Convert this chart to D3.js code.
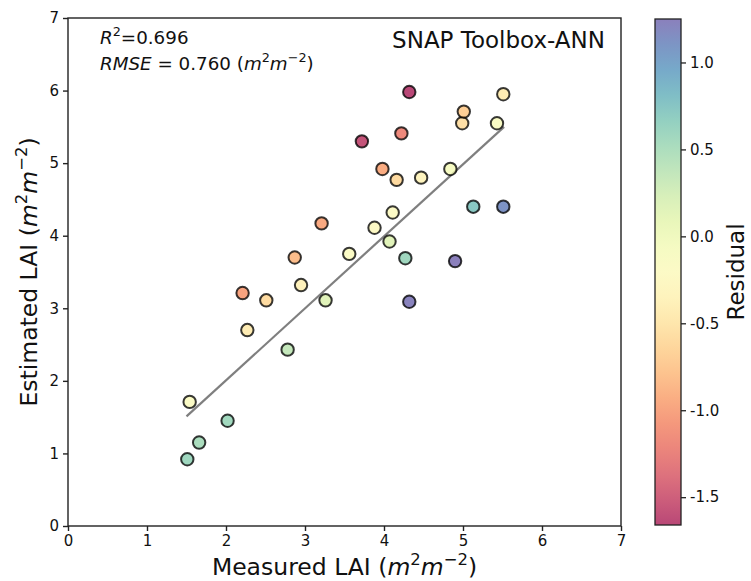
<!DOCTYPE html>
<html>
<head>
<meta charset="utf-8">
<script src="https://cdn.jsdelivr.net/npm/d3@7"></script>
<style>
  body { margin: 0; background: #fff; }
  text { font-family: "DejaVu Sans", sans-serif; fill: #111; }
</style>
</head>
<body>
<div id="chart"></div>
<script>
// measured vs estimated LAI
var measured  = [1.51, 1.54, 1.66, 2.02, 2.21, 2.27, 2.51, 2.78, 2.87, 2.95, 3.21, 3.26, 3.56,
                 3.72, 3.88, 3.98, 4.07, 4.11, 4.16, 4.22, 4.27, 4.32, 4.32, 4.47, 4.84, 4.90,
                 4.99, 5.01, 5.13, 5.43, 5.51, 5.51];
var estimated = [0.92, 1.71, 1.15, 1.45, 3.21, 2.70, 3.11, 2.43, 3.70, 3.32, 4.17, 3.11, 3.75,
                 5.30, 4.11, 4.92, 3.92, 4.32, 4.77, 5.41, 3.69, 5.98, 3.09, 4.80, 4.92, 3.65,
                 5.55, 5.71, 4.40, 5.55, 5.95, 4.40];
var fitX = [1.50, 5.52];
var fitY = [1.51, 5.50];
var axisTicks = [0, 1, 2, 3, 4, 5, 6, 7];
var cbarTicks = [-1.5, -1.0, -0.5, 0.0, 0.5, 1.0];

var W = 751, H = 581;
var pLeft = 68, pRight = 621, pTop = 18, pBottom = 526;
var cbLeft = 655, cbRight = 681, cbTop = 19, cbBottom = 525;

var svg = d3.select("#chart").append("svg")
  .attr("width", W).attr("height", H);

var x = d3.scaleLinear().domain([0, 7]).range([pLeft, pRight]);
var y = d3.scaleLinear().domain([0, 7]).range([pBottom, pTop]);

var points = measured.map(function(m, i) {
  return {m: m, e: estimated[i], r: m - estimated[i]};
});
var rExt = d3.extent(points, function(d) { return d.r; });
var color = d3.scaleSequential(d3.interpolateSpectral).domain(rExt);
var alpha = 0.72;

// fit line
svg.append("line")
  .attr("x1", x(fitX[0])).attr("y1", y(fitY[0]))
  .attr("x2", x(fitX[1])).attr("y2", y(fitY[1]))
  .attr("stroke", "#7f7f7f").attr("stroke-width", 2.2);

// points
svg.append("g").selectAll("circle")
  .data(points)
  .enter().append("circle")
    .attr("cx", function(d) { return x(d.m); })
    .attr("cy", function(d) { return y(d.e); })
    .attr("r", 6.2)
    .attr("fill", function(d) { return color(d.r); })
    .attr("fill-opacity", alpha)
    .attr("stroke", "#000")
    .attr("stroke-opacity", 0.78)
    .attr("stroke-width", 2);

// frame
svg.append("rect")
  .attr("x", pLeft).attr("y", pTop)
  .attr("width", pRight - pLeft).attr("height", pBottom - pTop)
  .attr("fill", "none").attr("stroke", "#222").attr("stroke-width", 1.4);

var xAxis = svg.append("g")
  .attr("transform", "translate(0," + pBottom + ")")
  .call(d3.axisBottom(x).tickValues(axisTicks).tickSize(5).tickPadding(4).tickFormat(d3.format("d")));
var yAxis = svg.append("g")
  .attr("transform", "translate(" + pLeft + ",0)")
  .call(d3.axisLeft(y).tickValues(axisTicks).tickSize(5).tickPadding(4).tickFormat(d3.format("d")));
[xAxis, yAxis].forEach(function(a) {
  a.select(".domain").remove();
  a.selectAll("line").attr("stroke", "#222").attr("stroke-width", 1.4);
  a.selectAll("text").style("font-size", "15px").style("font-family", "DejaVu Sans").attr("fill", "#111");
});

// rich text helper: parts are {t, i (italic), sup}
function rich(sel, parts, size) {
  var supSize = size * 0.7, shift = size * 0.42, up = false;
  parts.forEach(function(p) {
    var ts = sel.append("tspan").text(p.t)
      .style("font-style", p.i ? "italic" : "normal")
      .style("font-size", (p.sup ? supSize : size) + "px");
    if (p.sup && !up) { ts.attr("dy", -shift); up = true; }
    else if (!p.sup && up) { ts.attr("dy", shift); up = false; }
  });
  return sel;
}
var unit = [{t: "("}, {t: "m", i: true}, {t: "2", sup: true}, {t: "m", i: true}, {t: "\u22122", sup: true}, {t: ")"}];

// axis labels
rich(svg.append("text")
  .attr("x", (pLeft + pRight) / 2).attr("y", 575)
  .attr("text-anchor", "middle").style("font-size", "23.5px"),
  [{t: "Measured LAI "}].concat(unit), 23.5);

rich(svg.append("text")
  .attr("transform", "translate(37," + ((pTop + pBottom) / 2) + ") rotate(-90)")
  .attr("text-anchor", "middle").style("font-size", "23.5px"),
  [{t: "Estimated LAI "}].concat(unit), 23.5);

// annotations
rich(svg.append("text").attr("x", 100).attr("y", 44).style("font-size", "18.3px"),
  [{t: "R", i: true}, {t: "2", sup: true}, {t: "=0.696"}], 18.3);
rich(svg.append("text").attr("x", 100).attr("y", 70).style("font-size", "18.3px"),
  [{t: "RMSE", i: true}, {t: " = 0.760 "}].concat(unit), 18.3);

svg.append("text")
  .attr("x", 605).attr("y", 48)
  .attr("text-anchor", "end")
  .style("font-size", "23px")
  .text("SNAP Toolbox-ANN");

// colorbar
var cb = d3.scaleLinear().domain(rExt).range([cbBottom, cbTop]);
var grad = svg.append("defs").append("linearGradient")
  .attr("id", "cbgrad").attr("x1", 0).attr("y1", 1).attr("x2", 0).attr("y2", 0);
d3.range(0, 1.0001, 0.05).forEach(function(t) {
  grad.append("stop").attr("offset", t).attr("stop-color", d3.interpolateSpectral(t));
});
svg.append("rect")
  .attr("x", cbLeft).attr("y", cbTop)
  .attr("width", cbRight - cbLeft).attr("height", cbBottom - cbTop)
  .attr("fill", "url(#cbgrad)").attr("fill-opacity", alpha);
svg.append("rect")
  .attr("x", cbLeft).attr("y", cbTop)
  .attr("width", cbRight - cbLeft).attr("height", cbBottom - cbTop)
  .attr("fill", "none").attr("stroke", "#222").attr("stroke-width", 1.3);

var cbAxis = svg.append("g")
  .attr("transform", "translate(" + cbRight + ",0)")
  .call(d3.axisRight(cb).tickValues(cbarTicks).tickSize(5).tickPadding(4));
cbAxis.select(".domain").remove();
cbAxis.selectAll("line").attr("stroke", "#222").attr("stroke-width", 1.3);
cbAxis.selectAll("text").style("font-size", "15px").style("font-family", "DejaVu Sans").attr("fill", "#111")
  .text(function(d) { return d.toFixed(1); });

svg.append("text")
  .attr("transform", "translate(744," + ((cbTop + cbBottom) / 2) + ") rotate(-90)")
  .attr("text-anchor", "middle")
  .style("font-size", "23px")
  .text("Residual");
</script>
</body>
</html>
